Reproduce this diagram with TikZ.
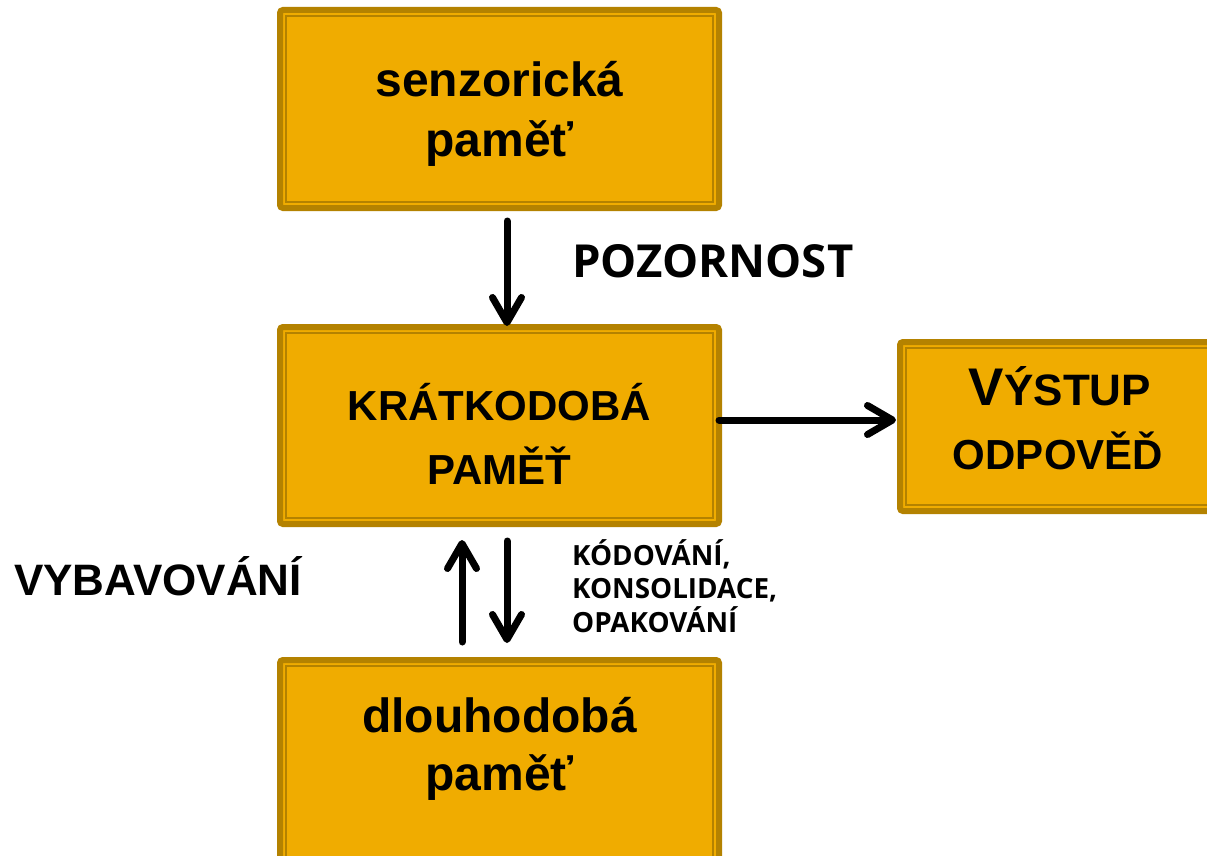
\documentclass[tikz,border=0pt]{standalone}
\usepackage{fontspec}
\setmainfont{Liberation Sans}
\newfontfamily\osans{Open Sans}
\usetikzlibrary{arrows.meta}
\definecolor{boxfill}{RGB}{240,172,0}
\definecolor{boxedge}{RGB}{180,130,0}
\tikzset{
  membox/.style={draw=boxedge, fill=boxfill, line width=6pt, rounded corners=3pt,
    inner sep=0pt, outer sep=0pt,
    path picture={\draw[boxedge, line width=1.6pt, rounded corners=0pt]
      ([shift={(6pt,-6pt)}]path picture bounding box.north west) rectangle
      ([shift={(-6pt,6pt)}]path picture bounding box.south east);}},
  boxtxt/.style={anchor=base, inner sep=0pt, font=\fontsize{48}{58}\selectfont\bfseries},
  captxt/.style={anchor=base, inner sep=0pt, font=\fontsize{42}{50}\selectfont\bfseries},
  sidetxt/.style={anchor=base west, inner sep=0pt, font=\fontsize{44}{50}\selectfont\bfseries},
  bigsans/.style={anchor=base west, inner sep=0pt, font=\osans\fontsize{45.5}{50}\selectfont\bfseries},
  smallsans/.style={anchor=base west, inner sep=0pt, font=\osans\fontsize{27.8}{33}\selectfont\bfseries},
  flow/.style={line width=7pt, line cap=round,
    -{Straight Barb[length=25pt, width=29pt, round]}},
}
\begin{document}
\begin{tikzpicture}[x=1pt,y=-1pt]
\clip (0,0) rectangle (1207,856);
\fill[white] (0,0) rectangle (1207,856);

% boxes
\node[membox, minimum width=439pt, minimum height=198pt] (s) at (499.5,109) {};
\node[membox, minimum width=439pt, minimum height=197pt] (k) at (499.5,425.5) {};
\node[membox, minimum width=316pt, minimum height=169pt] (v) at (1058,426.5) {};
\node[membox, minimum width=439pt, minimum height=220pt] (d) at (499.5,770) {};

% box texts
\node[boxtxt] (s1) at (499.5,97) {senzorická};
\node[boxtxt] (s2) at (499.5,157) {paměť};
\node[captxt] (k1) at (499.5,420) {KRÁTKODOBÁ};
\node[captxt] (k2) at (499.5,484) {PAMĚŤ};
\node[anchor=base, inner sep=0pt, font=\bfseries] (v1) at (1060,405)
  {{\fontsize{53}{60}\selectfont V}{\fontsize{44}{50}\selectfont ÝSTUP}};
\node[captxt] (v2) at (1058,469) {ODPOVĚĎ};
\node[boxtxt] (d1) at (499.5,732) {dlouhodobá};
\node[boxtxt] (d2) at (499.5,790) {paměť};

% labels
\node[bigsans] (poz) at (572,277) {POZORNOST};
\node[smallsans] (kod1) at (572,565) {KÓDOVÁNÍ,};
\node[smallsans] (kod2) at (572,598.5) {KONSOLIDACE,};
\node[smallsans] (kod3) at (572,632) {OPAKOVÁNÍ};
\node[sidetxt] (vyb) at (14,595) {VYBAVOVÁNÍ};

% connectors
\draw[flow] ([xshift=7.5pt,yshift=-13pt]s.south) -- ([xshift=7.5pt,yshift=1pt]k.north);
\draw[flow] ([yshift=5.5pt]k.east) -- ([xshift=-4pt,yshift=6.5pt]v.west);
\draw[flow] ([xshift=-37.5pt,yshift=18pt]d.north) -- ([xshift=-37.5pt,yshift=-16pt]k.south);
\draw[flow] ([xshift=7.5pt,yshift=-17pt]k.south) -- ([xshift=7.5pt,yshift=17pt]d.north);
\end{tikzpicture}
\end{document}
